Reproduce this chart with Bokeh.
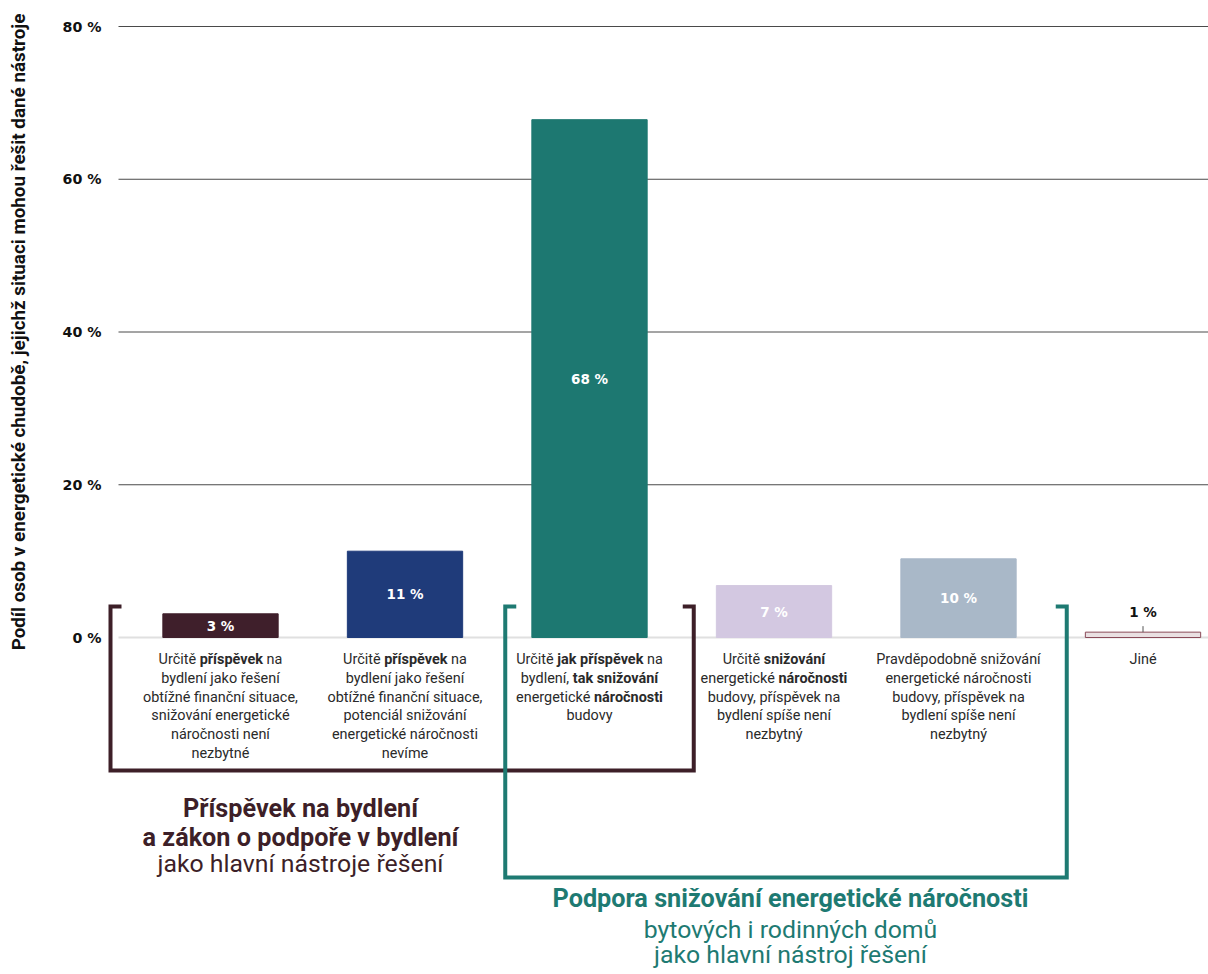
import math
import subprocess

from bokeh.plotting import figure
from bokeh.layouts import row
from bokeh.models import ColumnDataSource, FixedTicker, PrintfTickFormatter, Range1d
from bokeh.core.properties import value
from bokeh.embed import file_html
from bokeh.resources import INLINE

# ---------------- data ----------------
category_keys = ["a", "b", "c", "d", "e", "f"]
shares = [3.1, 11.3, 67.8, 6.8, 10.3, 0.7]
category_lines = [
    ["Určitě **příspěvek** na", "bydlení jako řešení", "obtížné finanční situace,",
     "snižování energetické", "náročnosti není", "nezbytné"],
    ["Určitě **příspěvek** na", "bydlení jako řešení", "obtížné finanční situace,",
     "potenciál snižování", "energetické náročnosti", "nevíme"],
    ["Určitě **jak příspěvek** na", "bydlení, **tak snižování**",
     "energetické **náročnosti**", "budovy"],
    ["Určitě **snižování**", "energetické **náročnosti**", "budovy, příspěvek na",
     "bydlení spíše není", "nezbytný"],
    ["Pravděpodobně snižování", "energetické náročnosti", "budovy, příspěvek na",
     "bydlení spíše není", "nezbytný"],
    ["Jiné"],
]
y_ticks = [0, 20, 40, 60, 80]
y_title = "Podíl osob v energetické chudobě, jejichž situaci mohou řešit dané nástroje"
group_members = [[0, 1, 2], [2, 3, 4]]
group_titles = [
    ["**Příspěvek na bydlení**", "**a zákon o podpoře v bydlení**", "jako hlavní nástroje řešení"],
    ["**Podpora snižování energetické náročnosti**", "bytových i rodinných domů", "jako hlavní nástroj řešení"],
]

# ---------------- style / layout ----------------
W, H = 1208, 974
TITLE_W = 36
FRAME_L, FRAME_T = 106, 10
ZERO_PX, TOP_PX = 637, 26
PPU = (ZERO_PX - TOP_PX) / 80.0
Y_END = 80 + (TOP_PX - FRAME_T) / PPU
Y_START = 80 - (H - TOP_PX) / PPU
XS = 184.5
X0_PX = 220.0
X_START = -(X0_PX - FRAME_L) / XS
X_END = X_START + (W - FRAME_L) / XS

bar_fill = ["#3f1f2b", "#1f3b7a", "#1d7871", "#d3c8e1", "#a9b8c8", "#e9e0e2"]
bar_line = ["#3f1f2b", "#1f3b7a", "#1d7871", "#d3c8e1", "#a9b8c8", "#8a4a58"]
bar_label_color = ["white", "white", "white", "white", "white", "#111111"]
group_colors = ["#3d1f28", "#1e7a72"]
TEXT_COLOR = "#2a2a2a"
CAT_FONT = "Roboto"
NUM_FONT = "DejaVu Sans"


def dy(px):
    return px / PPU


def dx(px):
    return px / XS


def font_file(family, bold):
    try:
        pat = family + (":bold" if bold else ":regular")
        out = subprocess.run(["fc-match", "-f", "%{file}", pat], capture_output=True,
                             text=True, timeout=5).stdout.strip()
        return out or None
    except Exception:
        return None


_cache = {}


def measure(text, family, size, bold):
    key = (family, bold)
    if key not in _cache:
        f = None
        path = font_file(family, bold)
        if path:
            try:
                from PIL import ImageFont
                fo = ImageFont.truetype(path, 100)
                if bold:
                    try:
                        fo.set_variation_by_name("Bold")
                    except Exception:
                        pass
                f = ("pil", fo)
            except Exception:
                try:
                    from fontTools.ttLib import TTFont
                    tt = TTFont(path)
                    f = ("ft", (tt.getBestCmap(), tt["hmtx"].metrics, tt["head"].unitsPerEm))
                except Exception:
                    f = None
        _cache[key] = f
    f = _cache[key]
    if f is None:
        return len(text) * size * (0.56 if bold else 0.52)
    if f[0] == "pil":
        return f[1].getlength(text) * size / 100.0
    cmap, hm, upem = f[1]
    tot = 0
    for ch in text:
        g = cmap.get(ord(ch))
        tot += hm[g][0] if g in hm else upem * 0.5
    return tot * size / upem


def fit(text, family, bold, target):
    return round(20.0 * target / measure(text, family, 20.0, bold), 2)


CAT_SIZE = fit("obtížné finanční situace,", CAT_FONT, False, 155)
GT_BOLD = fit("a zákon o podpoře v bydlení", CAT_FONT, True, 316)
GT_REG = fit("jako hlavní nástroje řešení", CAT_FONT, False, 286)
TICK_SIZE = fit("80 %", NUM_FONT, True, 39)
BARLBL_SIZE = fit("68 %", NUM_FONT, True, 37)
YT_SIZE = fit(y_title, "Roboto", True, 637)


def runs_of(line):
    parts = line.split("**")
    runs = []
    for i, seg in enumerate(parts):
        seg = seg.strip()
        if seg:
            runs.append((seg, i % 2 == 1))
    return runs


y_range = Range1d(Y_START, Y_END)

p = figure(width=W - TITLE_W, height=H, output_backend="svg", toolbar_location=None,
           x_axis_location=None, y_axis_location="left",
           x_range=Range1d(X_START, X_END), y_range=y_range,
           min_border_left=FRAME_L - TITLE_W, min_border_top=FRAME_T,
           min_border_bottom=0, min_border_right=0)
p.outline_line_color = None
p.xgrid.visible = False
p.ygrid.visible = False

ax = p.yaxis[0]
ax.ticker = FixedTicker(ticks=y_ticks)
ax.formatter = PrintfTickFormatter(format="%d %%")
ax.axis_line_color = None
ax.major_tick_line_color = None
ax.minor_tick_line_color = None
ax.major_tick_out = 0
ax.major_tick_in = 0
ax.major_label_standoff = 5
ax.major_label_text_font = NUM_FONT
ax.major_label_text_font_style = "bold"
ax.major_label_text_font_size = f"{TICK_SIZE}px"
ax.major_label_text_color = "#111111"

# grid lines
grid_x0 = X_START + dx(12)
p.segment(x0=[grid_x0] * len(y_ticks), x1=[X_END] * len(y_ticks), y0=y_ticks, y1=y_ticks,
          line_color=["#e0e0e0" if t == 0 else "#4a4a4a" for t in y_ticks],
          line_width=[2 if t == 0 else 1 for t in y_ticks])

xs = list(range(len(category_keys)))
src = ColumnDataSource(dict(x=xs, top=shares, fill=bar_fill, line=bar_line))
p.vbar(x="x", top="top", width=0.625, bottom=0, fill_color="fill", line_color="line",
       line_width=1, source=src)

# bar value labels
lx, ly, lt, lc = [], [], [], []
cx0, cx1, cy0, cy1 = [], [], [], []
for i, v in enumerate(shares):
    lx.append(xs[i])
    lt.append(f"{round(v)} %")
    lc.append(bar_label_color[i])
    if v > 2:
        ly.append(v / 2.0)
    else:
        ly.append(v + dy(20))
        cx0.append(xs[i]); cx1.append(xs[i]); cy0.append(v); cy1.append(v + dy(6))
p.text(x=lx, y=ly, text=lt, text_color=lc, text_align="center", text_baseline="middle",
       text_font=value(NUM_FONT), text_font_style="bold", text_font_size=f"{BARLBL_SIZE}px")
if cx0:
    p.segment(x0=cx0, x1=cx1, y0=cy0, y1=cy1, line_color="#555555", line_width=1)

# brackets
bracket_top = dy(31)
bracket_bottoms = [-dy(133), -dy(240)]
tick = dx(11)
for g, members in enumerate(group_members):
    if g == 0:
        left = members[0] - dx(110)
        right = members[-1] + 0.5 + dx(12)
    else:
        left = members[0] - 0.5 + dx(8)
        right = members[-1] + 0.5 + dx(16)
    b = bracket_bottoms[g]
    p.line(x=[left + tick, left, left, right, right, right - tick],
           y=[bracket_top, bracket_top, b, b, bracket_top, bracket_top],
           line_color=group_colors[g], line_width=4, line_join="miter", line_cap="butt")

# category labels
reg = dict(x=[], y=[], text=[])
bold = dict(x=[], y=[], text=[])
space_w = measure(" ", CAT_FONT, CAT_SIZE, False)
for i, lines in enumerate(category_lines):
    for k, line in enumerate(lines):
        runs = runs_of(line)
        widths = [measure(t, CAT_FONT, CAT_SIZE, b) for t, b in runs]
        total = sum(widths) + space_w * (len(runs) - 1)
        cur = xs[i] - dx(total / 2.0)
        yy = -dy(22 + 18.8 * k)
        for (t, b), w in zip(runs, widths):
            d = bold if b else reg
            d["x"].append(cur); d["y"].append(yy); d["text"].append(t)
            cur += dx(w + space_w)
p.text(x=reg["x"], y=reg["y"], text=reg["text"], text_align="left", text_baseline="middle",
       text_font=value(CAT_FONT), text_font_size=f"{CAT_SIZE}px", text_color=TEXT_COLOR)
p.text(x=bold["x"], y=bold["y"], text=bold["text"], text_align="left", text_baseline="middle",
       text_font=value(CAT_FONT), text_font_style="bold", text_font_size=f"{CAT_SIZE}px",
       text_color=TEXT_COLOR)

# group titles
group_anchor_px = [300, 790]
group_line_px = [[171, 200, 226], [261, 292, 317]]
for g, lines in enumerate(group_titles):
    for k, line in enumerate(lines):
        t, b = runs_of(line)[0]
        p.text(x=[(group_anchor_px[g] - X0_PX) / XS], y=[-dy(group_line_px[g][k])], text=[t],
               text_align="center", text_baseline="middle", text_font=value(CAT_FONT),
               text_font_style="bold" if b else "normal",
               text_font_size=f"{GT_BOLD if b else GT_REG}px",
               text_color=group_colors[g])

# y axis title in a narrow companion figure sharing the y range
pt = figure(width=TITLE_W, height=H, output_backend="svg", toolbar_location=None,
            x_axis_location=None, y_axis_location=None,
            x_range=Range1d(0, 1), y_range=y_range,
            min_border_left=0, min_border_top=FRAME_T, min_border_bottom=0, min_border_right=0)
pt.outline_line_color = None
pt.xgrid.visible = False
pt.ygrid.visible = False
pt.text(x=[0.5], y=[40], text=[y_title], angle=math.pi / 2, text_align="center",
        text_baseline="middle", text_font=value("Roboto"), text_font_style="bold",
        text_font_size=f"{YT_SIZE}px", text_color="#111111")

layout = row(pt, p, spacing=0)
open("out.html", "w").write(file_html(layout, INLINE))
